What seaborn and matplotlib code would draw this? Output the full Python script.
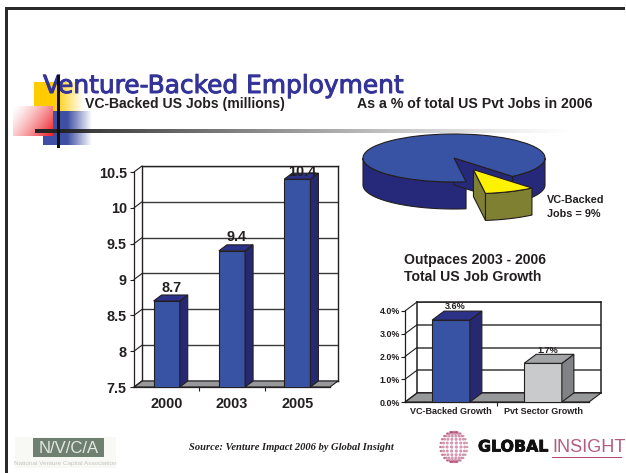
import numpy as np
import pandas as pd
import matplotlib
matplotlib.use("Agg")
import matplotlib.pyplot as plt
import matplotlib.patheffects as pe
import seaborn as sns
from matplotlib.patches import Polygon, Rectangle
from matplotlib.transforms import IdentityTransform

# Chart data
job_years = ["2000", "2003", "2005"]
job_values = [8.7, 9.4, 10.4]
job_ticks = [7.5, 8, 8.5, 9, 9.5, 10, 10.5]
job_tick_labels = ["7.5", "8", "8.5", "9", "9.5", "10", "10.5"]

share_values = [9, 91]

growth_names = ["VC-Backed Growth", "Pvt Sector Growth"]
growth_values = [3.6, 1.7]
growth_ticks = [0, 1, 2, 3, 4]
growth_tick_labels = ["0.0%", "1.0%", "2.0%", "3.0%", "4.0%"]

BLUE, BLUE_SIDE, BLUE_TOP = "#3853A4", "#26296F", "#2B3288"
GREY, GREY_SIDE, GREY_TOP = "#C9CACB", "#808285", "#A3A4A6"
INK = "#231F20"
W, H = 626, 473

sns.set_theme(style="white")
plt.rcParams["font.family"] = ["Liberation Sans", "DejaVu Sans"]
plt.rcParams["axes.unicode_minus"] = False

fig = plt.figure(figsize=(W / 100, H / 100), dpi=100, facecolor="white")


def box(x0, x1, top, bottom):
    return [x0 / W, 1 - bottom / H, (x1 - x0) / W, (bottom - top) / H]


# Slide furniture lives on a full-size canvas measured in pixels
canvas = fig.add_axes([0, 0, 1, 1], zorder=0)
canvas.set_xlim(0, W)
canvas.set_ylim(H, 0)
canvas.axis("off")


def fade(rgb, extent, alpha, z):
    img = np.ones(alpha.shape + (4,))
    img[..., :3] = matplotlib.colors.to_rgb(rgb)
    img[..., 3] = alpha
    canvas.imshow(img, extent=extent, aspect="auto", zorder=z, interpolation="bilinear")


u = np.linspace(0, 1, 120)
v = np.linspace(0, 1, 60)
uu, vv = np.meshgrid(u, v)
fade("#FFCC00", (34, 84, 112, 83), np.clip((1 - uu) / 0.58, 0, 1), 1)
fade("#3F4FA5", (43, 92, 145, 111), np.clip((1 - uu) / 0.5, 0, 1), 2)
# The red tile sits on its own white ground and hides what lies under it
canvas.add_patch(Rectangle((13, 106), 40, 30, color="white", lw=0, zorder=3))
fade("#ED1C24", (13, 53, 136, 106), (uu * 0.65 + vv * 0.35) ** 1.4, 3.5)
fade("#222222", (35, 575, 133, 129), (1 - uu) ** 1.2, 4)
canvas.set_xlim(0, W)
canvas.set_ylim(H, 0)

canvas.add_patch(Rectangle((5, 7), W - 6, 3, color="#2A2A2A", lw=0, zorder=5))
canvas.add_patch(Rectangle((5, 7), 3, H - 7, color="#2A2A2A", lw=0, zorder=5))

title = canvas.text(43, 93, "Venture-Backed Employment", color="#333399", fontsize=17.9,
                    family="DejaVu Sans", va="baseline", ha="left", zorder=6)
title.set_path_effects([pe.withStroke(linewidth=0.7, foreground="#333399")])
canvas.add_patch(Rectangle((57, 75), 3, 73, color="#111111", lw=0, zorder=7))
canvas.text(85, 103.5, "VC-Backed US Jobs (millions)", color=INK, fontsize=10.1,
            weight="bold", va="center", ha="left", zorder=8)
canvas.text(357, 103.5, "As a % of total US Pvt Jobs in 2006", color=INK, fontsize=10.2,
            weight="bold", va="center", ha="left", zorder=8)
canvas.text(404, 260, "Outpaces 2003 - 2006", color=INK, fontsize=10.1,
            weight="bold", va="center", ha="left", zorder=8)
canvas.text(404, 277, "Total US Job Growth", color=INK, fontsize=10.1,
            weight="bold", va="center", ha="left", zorder=8)
canvas.text(189, 447, "Source: Venture Impact 2006 by Global Insight", color=INK, fontsize=7.6,
            family="Liberation Serif", weight="bold", style="italic", va="center", zorder=8)


def chart(position, depth, cats, vals, ylim, ticks, tick_labels, palette, width,
          tick_size, cat_size, cat_pad, y_pad, value_fmt, lifts, value_size, line):
    x0, x1, top, bottom = position
    d = np.array(depth, dtype=float)
    back = fig.add_axes(box(x0 + d[0], x1 + d[0], top - d[1], bottom - d[1]), zorder=1)
    back.set_ylim(*ylim)
    back.set_yticks(ticks)
    back.set_xticks([])
    back.tick_params(left=False, labelleft=False)
    back.grid(axis="y", color="#3A3A3A", lw=line)
    back.set_axisbelow(True)
    for s in back.spines.values():
        s.set_color(INK)
        s.set_linewidth(line)

    ax = fig.add_axes(box(x0, x1, top, bottom), zorder=2)
    ax.patch.set_alpha(0)
    frame = pd.DataFrame({"cat": cats, "val": vals})
    sns.barplot(data=frame, x="cat", y="val", hue="cat", palette=[p[0] for p in palette],
                width=width, saturation=1, legend=False, edgecolor=INK, linewidth=0.8,
                ax=ax, zorder=4)
    bars = [r for r in ax.patches if isinstance(r, Rectangle)][:len(vals)]
    ax.set_xlim(-0.5, len(cats) - 0.5)
    ax.set_ylim(*ylim)
    ax.set_xlabel("")
    ax.set_ylabel("")
    ax.set_yticks(ticks)
    ax.set_yticklabels(tick_labels, fontsize=tick_size, weight="bold", color=INK)
    ax.set_xticks(range(len(cats)))
    ax.set_xticklabels(cats, fontsize=cat_size, weight="bold", color=INK)
    ax.set_xticks(np.arange(0.5, len(cats) - 0.5), minor=True)
    ax.tick_params(axis="x", which="major", length=0, pad=cat_pad)
    ax.tick_params(axis="x", which="minor", bottom=True, length=3, width=0.8, color=INK)
    ax.tick_params(axis="y", left=True, length=3, width=0.8, color=INK, pad=y_pad)
    for name, s in ax.spines.items():
        s.set_visible(name in ("left", "bottom"))
        s.set_color(INK)
        s.set_linewidth(0.9)

    to_px = ax.transData.transform

    def face(points, color, z, lw=0.8):
        ax.add_patch(Polygon(points, closed=True, transform=IdentityTransform(), facecolor=color,
                             edgecolor=INK, lw=lw, clip_on=False, zorder=z))

    # Floor and the slanted rules that join the front axis to the back wall
    a, b = to_px((-0.5, ylim[0])), to_px((len(cats) - 0.5, ylim[0]))
    face([a, b, b + d, a + d], "#97989A", 1)
    for t in ticks:
        p = to_px((-0.5, t))
        ax.plot(*zip(p, p + d), transform=IdentityTransform(), color=INK,
                lw=0.8, clip_on=False, zorder=1)

    # Each bar gets a side and a cap worked out from its own rectangle
    for rect, value, shades, lift in zip(bars, vals, palette, lifts):
        left, right = rect.get_x(), rect.get_x() + rect.get_width()
        nw, ne = to_px((left, value)), to_px((right, value))
        se = to_px((right, ylim[0]))
        face([ne, se, se + d, ne + d], shades[1], 5)
        face([nw, ne, ne + d, nw + d], shades[2], 5)
        ax.annotate(value_fmt.format(value), ((left + right) / 2, value), xytext=(3.3, lift * 0.72),
                    textcoords="offset points", ha="center", va="center", fontsize=value_size,
                    weight="bold", color=INK, annotation_clip=False, zorder=9)
    return ax


chart((134, 330, 172, 387), (8, 6), job_years, job_values, (7.5, 10.5), job_ticks, job_tick_labels,
      [(BLUE, BLUE_SIDE, BLUE_TOP)] * 3, 0.4, 10.4, 10.4, 7, 2.2, "{:.1f}", (13, 14, 7), 10.4, 1.0)

chart((405, 589, 311, 402), (12, 9), growth_names, growth_values, (0, 4), growth_ticks,
      growth_tick_labels, [(BLUE, BLUE_SIDE, BLUE_TOP), (GREY, GREY_SIDE, GREY_TOP)], 0.41,
      6.4, 6.5, 3.5, 0.6, "{:.1f}%", (14, 13), 6.5, 1.1)

# Tilted pie: the slices come from ax.pie, then the axes aspect squashes them into an ellipse
pie_ax = fig.add_axes(box(363, 545, 134, 182), zorder=2)
wedges, _ = pie_ax.pie(share_values, colors=["#FFF200", BLUE], startangle=-82.4, radius=1,
                       explode=[0.53, 0], wedgeprops={"edgecolor": INK, "linewidth": 0.8, "clip_on": False})
pie_ax.set_aspect("auto")
pie_ax.set_xlim(-1, 1)
pie_ax.set_ylim(-1, 1)
THICK = 1.125


def rim(wedge, degrees):
    t = np.radians(degrees)
    return wedge.center[0] + wedge.r * np.cos(t), wedge.center[1] + wedge.r * np.sin(t)


def wall(xs, ys, color, z):
    xs, ys = np.asarray(xs), np.asarray(ys)
    pts = np.r_[np.c_[xs, ys], np.c_[xs, ys - THICK][::-1]]
    pie_ax.add_patch(Polygon(pts, closed=True, facecolor=color, edgecolor=INK, lw=0.8,
                             clip_on=False, zorder=z))


slice_w, rest_w = wedges
slice_w.set_zorder(6)
rest_w.set_zorder(3)

# Outer wall of the large slice, only where the rim faces the viewer
angles = np.linspace(rest_w.theta1, rest_w.theta2, 500)
wall(*rim(rest_w, angles[angles <= 0]), "#26297A", 1)
wall(*rim(rest_w, angles[angles >= 180]), "#26297A", 1)
# Cut face that shows inside the gap
cx, cy = rest_w.center
ex, ey = rim(rest_w, rest_w.theta1)
wall([cx, ex], [cy, ey], "#26297A", 2)

# Pulled-out slice walls
sx, sy = slice_w.center
fx, fy = rim(slice_w, slice_w.theta1)
wall([sx, fx], [sy, fy], "#808033", 4)
wall(*rim(slice_w, np.linspace(slice_w.theta1, slice_w.theta2, 60)), "#808033", 5)

canvas.text(547, 200, "VC-Backed", color=INK, fontsize=7.8, weight="bold", va="center", zorder=8)
canvas.text(547, 213.5, "Jobs = 9%", color=INK, fontsize=7.8, weight="bold", va="center", zorder=8)

# Footer logos
canvas.add_patch(Rectangle((15, 437), 101, 31, color="#F8F8F4", lw=0, zorder=1))
canvas.add_patch(Rectangle((33, 438), 71, 19, color="#6F8070", lw=0, zorder=2))
canvas.text(68.5, 448, "N/V/C/A", color="#E4E8E2", fontsize=12, ha="center", va="center", zorder=3)
canvas.text(65.5, 463, "National Venture Capital Association", color="#C4C5BF", fontsize=4.6,
            ha="center", va="center", zorder=3)

# Dotted globe beside the wordmark
lat = np.radians(np.arange(-75, 76, 15))
lon = np.radians(np.arange(-90, 81, 20))
la, lo = np.meshgrid(lat, lon)
gx = 454 + 14 * np.cos(la) * np.sin(lo)
gy = 447 + 15.5 * np.sin(la)
canvas.scatter(gx, gy, s=(2 + 3.5 * np.clip(np.cos(la) * np.cos(lo), 0, 1)).ravel(),
               color="#A8335F", alpha=0.5, linewidths=0, zorder=3)
logo = canvas.text(478, 447, "GLOBAL", color="#111111", fontsize=11.4, family="DejaVu Sans",
                   weight="bold", va="center", zorder=3)
logo.set_path_effects([pe.withStroke(linewidth=0.6, foreground="#111111")])
canvas.text(552, 447, "INSIGHT", color="#B35C7E", fontsize=13.1, va="center", zorder=3)
canvas.add_patch(Rectangle((552, 456.5), 70, 1.3, color="#B04A70", lw=0, zorder=3))

fig.savefig("out.png", dpi=100, facecolor="white")
